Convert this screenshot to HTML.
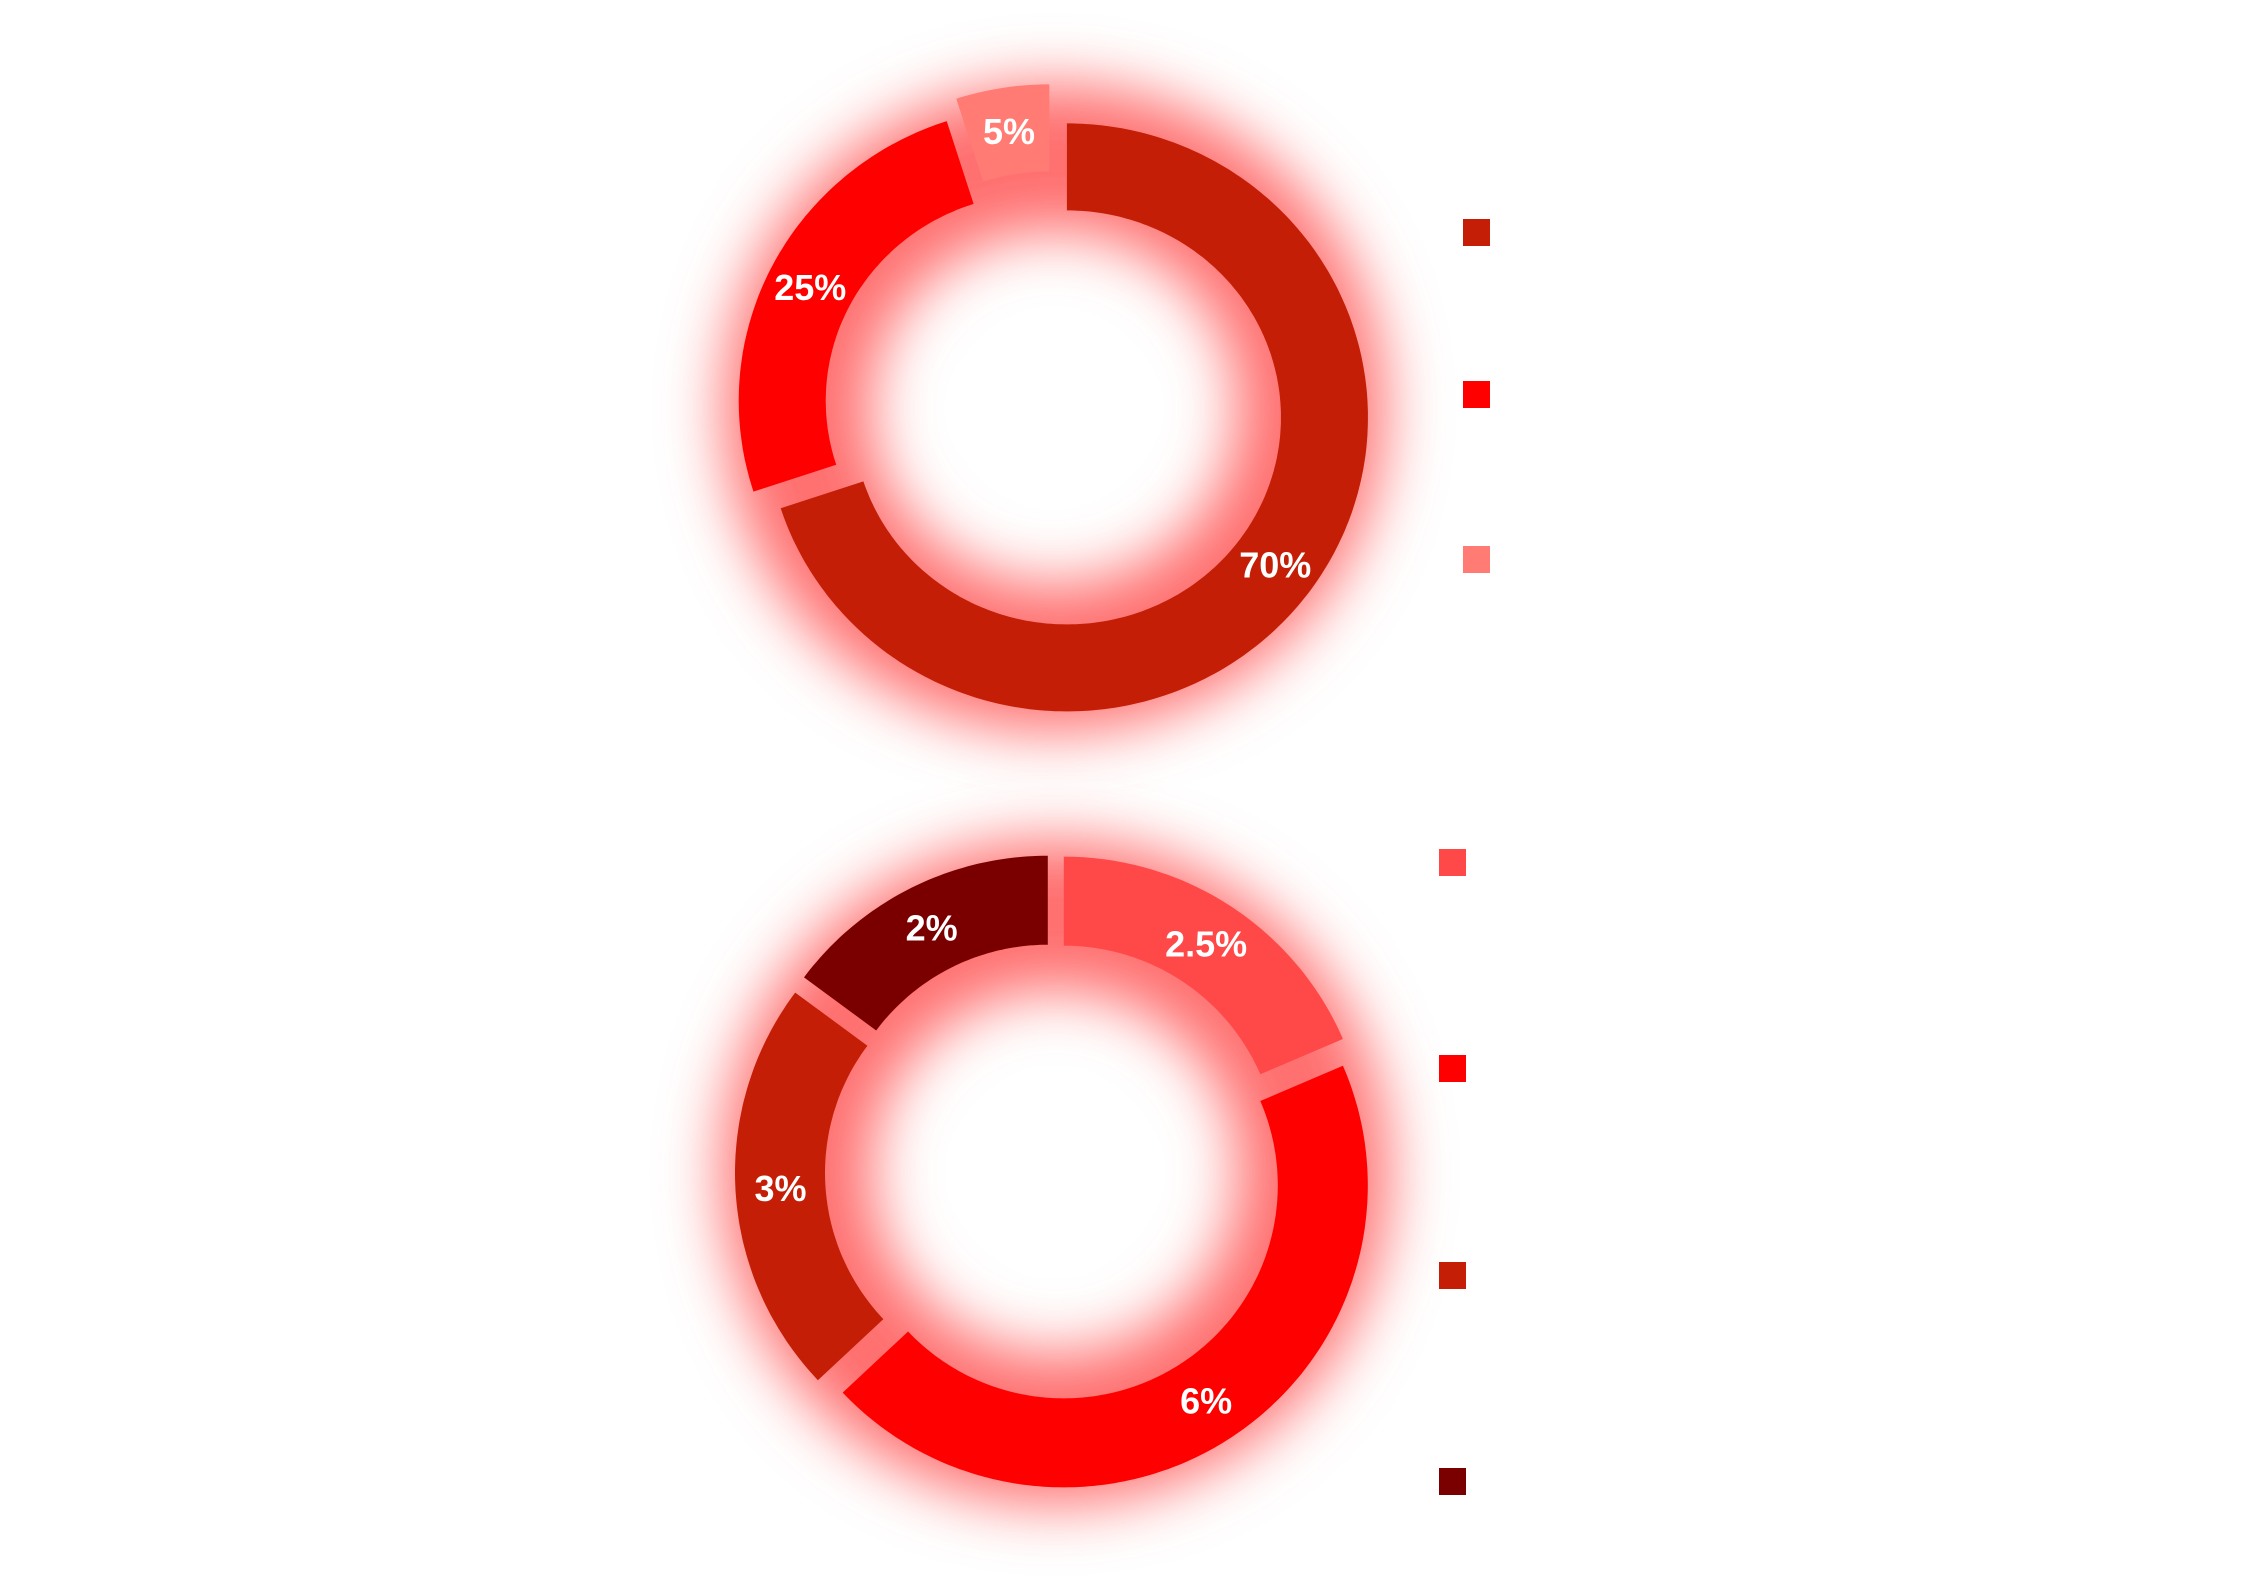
<!DOCTYPE html>
<html><head><meta charset="utf-8">
<style>
html,body{margin:0;padding:0;background:#fff;}
svg{display:block;}
.lbl{font-family:"Liberation Sans",sans-serif;font-weight:bold;font-size:36px;fill:#fff;}
</style></head>
<body>
<svg id="chart" width="2245" height="1587" viewBox="0 0 2245 1587" xmlns="http://www.w3.org/2000/svg">
<defs>
<filter id="glow" x="-50%" y="-50%" width="200%" height="200%"><feGaussianBlur stdDeviation="30"/></filter>
</defs>
<rect width="2245" height="1587" fill="#fff"/>
<g id="top"></g>
<g id="bottom"></g>
<g id="legends"></g>
</svg>
<script>
const topLabels = ["70%", "25%", "5%"];
const topValues = [70, 25, 5];
const topColors = ["#C41E06", "#FF0000", "#FF7B74"];
const topOffsets = [16, 16, 30];
const bottomLabels = ["2.5%", "6%", "3%", "2%"];
const bottomValues = [2.5, 6, 3, 2];
const bottomColors = ["#FF4848", "#FF0000", "#C41E06", "#7A0000"];
const bottomOffsets = [16, 16, 16, 16];

const NS = "http://www.w3.org/2000/svg";
function pt(g, a, rx, ry) {
  return [g.cx + rx * Math.sin(a), g.cy - ry * Math.cos(a)];
}
function drawDonut(groupId, geom, values, colors, labels, offsets, nameBase) {
  const g = document.getElementById(groupId);
  const total = values.reduce((s, v) => s + v, 0);
  const glow = document.createElementNS(NS, "ellipse");
  
  
  glow.setAttribute("cx", geom.cx); glow.setAttribute("cy", geom.cy);
  glow.setAttribute("rx", (geom.rx + geom.rxi) / 2); glow.setAttribute("ry", (geom.ry + geom.ryi) / 2);
  glow.setAttribute("fill", "none"); glow.setAttribute("stroke", "#FF7070");
  glow.setAttribute("stroke-width", (geom.rx - geom.rxi) + 60);
  glow.setAttribute("filter", "url(#glow)");
  g.appendChild(glow);
  let acc = 0;
  values.forEach((v, i) => {
    const a0 = acc / total * 2 * Math.PI;
    acc += v;
    const a1 = acc / total * 2 * Math.PI;
    const am = (a0 + a1) / 2;
    const dx = offsets[i] * Math.sin(am), dy = -offsets[i] * Math.cos(am);
    const gg = { cx: geom.cx + dx, cy: geom.cy + dy };
    const N = Math.max(4, Math.ceil((a1 - a0) * 60));
    let d = "";
    for (let k = 0; k <= N; k++) {
      const a = a0 + (a1 - a0) * k / N;
      const p = pt(gg, a, geom.rx, geom.ry);
      d += (k === 0 ? "M" : "L") + p[0].toFixed(1) + "," + p[1].toFixed(1);
    }
    for (let k = N; k >= 0; k--) {
      const a = a0 + (a1 - a0) * k / N;
      const p = pt(gg, a, geom.rxi, geom.ryi);
      d += "L" + p[0].toFixed(1) + "," + p[1].toFixed(1);
    }
    d += "Z";
    const path = document.createElementNS(NS, "path");
    
    
    path.setAttribute("d", d);
    path.setAttribute("fill", colors[i]);
    g.appendChild(path);
    const lp = pt(gg, am, (geom.rx + geom.rxi) / 2, (geom.ry + geom.ryi) / 2);
    const t = document.createElementNS(NS, "text");
    
    
    t.setAttribute("class", "lbl");
    t.setAttribute("x", lp[0].toFixed(1));
    t.setAttribute("y", (lp[1] + 13).toFixed(1));
    t.setAttribute("text-anchor", "middle");
    t.textContent = labels[i];
    g.appendChild(t);
  });
}
drawDonut("top", { cx: 1054, cy: 408, rx: 301, ry: 294, rxi: 214, ryi: 207 }, topValues, topColors, topLabels, topOffsets, "top-donut");
drawDonut("bottom", { cx: 1055, cy: 1172, rx: 304, ry: 302, rxi: 214, ryi: 213 }, bottomValues, bottomColors, bottomLabels, bottomOffsets, "bottom-donut");

function legend(x, ys, colors, labels, nameBase) {
  const g = document.getElementById("legends");
  colors.forEach((c, i) => {
    const r = document.createElementNS(NS, "rect");
    
    
    r.setAttribute("x", x); r.setAttribute("y", ys[i]);
    r.setAttribute("width", 27); r.setAttribute("height", 27);
    r.setAttribute("fill", c);
    g.appendChild(r);
    const t = document.createElementNS(NS, "text");
    
    
    t.setAttribute("x", x + 45); t.setAttribute("y", ys[i] + 24);
    t.setAttribute("font-family", "Liberation Sans, sans-serif");
    t.setAttribute("font-size", "30"); t.setAttribute("fill", "#fff");
    t.textContent = labels[i];
    g.appendChild(t);
  });
}
legend(1463, [219, 381, 546], topColors, topLabels, "top-legend");
legend(1439, [849, 1055, 1262, 1468], bottomColors, bottomLabels, "bottom-legend");
</script>
</body></html>
